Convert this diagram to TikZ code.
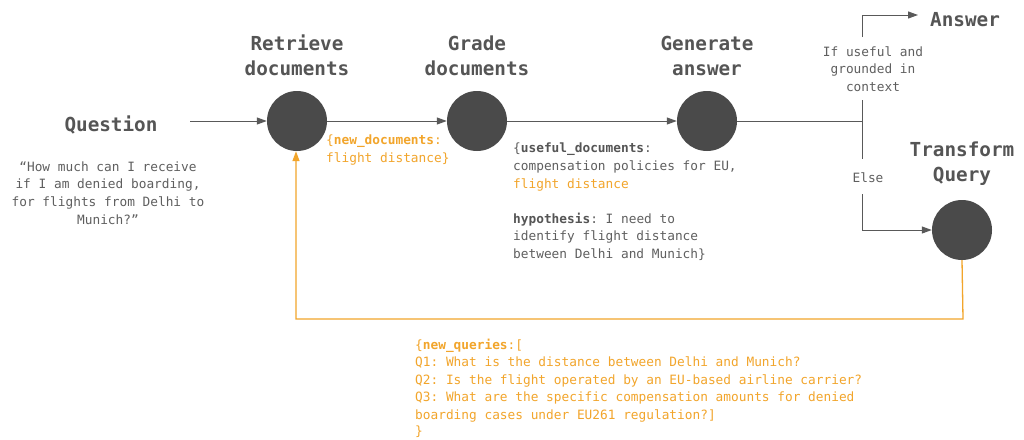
\documentclass[tikz,border=0pt]{standalone}
\usepackage{fontspec}
\setmonofont{DejaVu Sans Mono}
\usetikzlibrary{arrows.meta}
\definecolor{dot}{HTML}{4A4A4A}
\definecolor{ln}{HTML}{595959}
\definecolor{tx}{HTML}{555555}
\definecolor{stx}{HTML}{5F5F5F}
\definecolor{org}{HTML}{F2A52B}
\tikzset{
  x=1pt,y=-1pt,
  dotnode/.style={circle,fill=dot,minimum size=60pt,inner sep=0pt},
  title/.style={font=\ttfamily\bfseries\fontsize{19.3}{25}\selectfont,text=tx,align=center,inner sep=0pt},
  small/.style={font=\ttfamily\fontsize{12.8}{17.6}\selectfont,text=stx,inner sep=0pt},
  conn/.style={draw=ln,line width=1pt},
  arr/.style={conn,-{Triangle[length=10pt,width=7pt]}},
  oconn/.style={draw=org,line width=1.3pt},
  oarr/.style={oconn,-{Triangle[length=10pt,width=7pt]}},
}
\begin{document}
\begin{tikzpicture}
\useasboundingbox (0,0) rectangle (1024,439);
\fill[white] (0,0) rectangle (1024,439);
% nodes
\node[dotnode] (ret) at (297,121) {};
\node[dotnode] (grd) at (477,121) {};
\node[dotnode] (gen) at (707,121) {};
\node[dotnode] (trf) at (962,230) {};
% titles
\node[title] (tret) at (297,55.5) {Retrieve\\documents};
\node[title] (tgrd) at (477,55.5) {Grade\\documents};
\node[title] (tgen) at (707,55.5) {Generate\\answer};
\node[title] (ttrf) at (962,163.5) {Transform\\Query};
\node[title] (q) at (111,125) {Question};
\node[title,anchor=west] (ans) at (930,20) {Answer};
\node[small,align=center] (qtext) at (108,193) {“How much can I receive\\if I am denied boarding,\\for flights from Delhi to\\Munich?”};
% connectors
\coordinate (qs) at (190,121);
\draw[arr] (qs) -- (ret.west);
\draw[arr] (ret.east) -- (grd.west);
\draw[arr] (grd.east) -- (gen.west);
\coordinate (br) at (862,121);
\draw[conn] (gen.east) -- (br);
\node[small,align=center] (cond) at (873,69) {If useful and\\grounded in\\context};
\node[small] (else) at (868,178) {Else};
\coordinate (up1) at (862,100);
\coordinate (up2) at (862,37);
\coordinate (up3) at (862,15);
\coordinate (ansin) at (918,15);
\draw[conn] (up1) -- (br) -- (862,159);
\draw[arr] (up2) -- (up3) -- (ansin);
\coordinate (dn1) at (862,194);
\draw[arr] (dn1) -- (862,230) -- (trf.west);
% feedback loop
\coordinate (fb1) at (963,319);
\coordinate (fb2) at (296,319);
\draw[oarr] (trf.south) -- (fb1) -- (fb2) -- (ret.south -| fb2);
% labels
\node[small,anchor=north west,align=left,text=org] (nd) at (326,135) {\{\textbf{new\_documents}:\\flight distance\}};
\node[small,anchor=north west,align=left] (ud) at (513,143) {\{\textbf{\color{tx}useful\_documents}:\\compensation policies for EU,\\\textcolor{org}{flight distance}\\[17.6pt]\textbf{\color{tx}hypothesis}: I need to\\identify flight distance\\between Delhi and Munich\}};
\node[small,anchor=north west,align=left,text=org] (nq) at (415,338.5) {\{\textbf{new\_queries}:[\\Q1: What is the distance between Delhi and Munich?\\Q2: Is the flight operated by an EU-based airline carrier?\\Q3: What are the specific compensation amounts for denied\\boarding cases under EU261 regulation?]\\[-1.5pt]\}};
\end{tikzpicture}
\end{document}
